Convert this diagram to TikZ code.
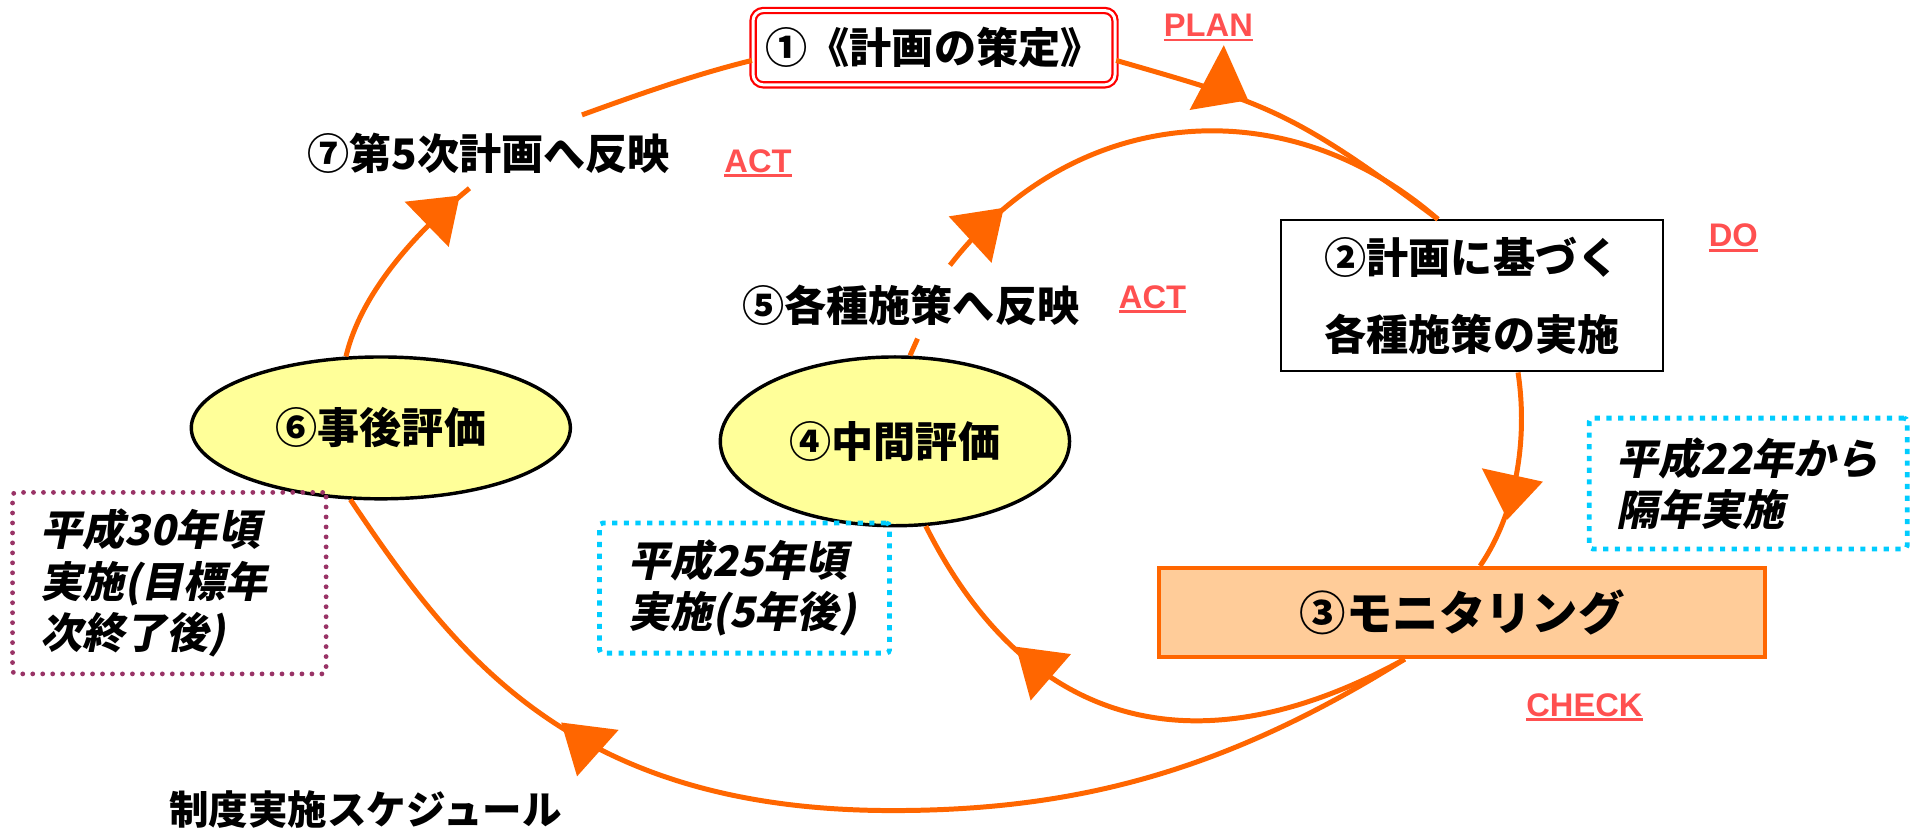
\documentclass[tikz,border=0pt]{standalone}
\usepackage{fontspec}
\setmainfont{Liberation Sans}
\newfontfamily\jp{Noto Sans CJK JP}
\newfontfamily\jpit{Noto Sans CJK JP}[FakeSlant=0.2]
\usetikzlibrary{shapes.geometric}
\definecolor{lineorange}{HTML}{FF6600}
\definecolor{monfill}{HTML}{FFCC99}
\definecolor{evalfill}{HTML}{FFFF99}
\definecolor{pdcared}{HTML}{FF5050}
\definecolor{dotcyan}{HTML}{00CCFF}
\definecolor{dotpurple}{HTML}{993366}
\newcommand{\redul}[1]{\setbox0\hbox{#1}\rlap{\rule[-2.8pt]{\wd0}{1.7pt}}\box0}
\begin{document}
\begin{tikzpicture}[x=0.025cm, y=-0.025cm,
	flow/.style={draw=lineorange, line width=2.9pt},
	head/.style={fill=lineorange},
	jplabel/.style={font=\jp\bfseries\fontsize{24.5}{30}\selectfont, inner sep=0pt},
	pdca/.style={text=pdcared, font=\bfseries\fontsize{19}{20}\selectfont, inner sep=0pt, anchor=base},
	note/.style={line width=2.8pt, align=left, inner sep=0pt, rounded corners=2pt, font=\jpit\bfseries\fontsize{24.5}{30}\selectfont},
	cyannote/.style={note, draw=dotcyan, dash pattern=on 3pt off 3.8pt},
	purplenote/.style={note, draw=dotpurple, line width=2.8pt, line cap=round, dash pattern=on 0pt off 5.8pt}]
		\useasboundingbox (0,0) rectangle (1568,681);
		
		% Steps
		\node[draw=red, double=white, double distance=1.7pt, line width=1.3pt, rounded corners=6pt, minimum width=7.4cm, minimum height=1.52cm, jplabel] (plan) at (764,39) {①《計画の策定》};
		\node[draw, line width=1.2pt, minimum width=7.81cm, minimum height=3.09cm, align=center, jplabel, font=\jp\bfseries\fontsize{24.5}{44.5}\selectfont] (do) at (1204,242) {②計画に基づく\\各種施策の実施};
		\node[draw=lineorange, fill=monfill, line width=2.4pt, minimum width=12.39cm, minimum height=1.82cm, jplabel, font=\jp\bfseries\fontsize{27}{30}\selectfont] (mon) at (1196,501) {③モニタリング};
		\node[ellipse, draw, fill=evalfill, line width=2pt, minimum width=7.14cm, minimum height=3.45cm, jplabel] (mid) at (732,361) {④中間評価};
		\node[ellipse, draw, fill=evalfill, line width=2pt, minimum width=7.75cm, minimum height=2.9cm, jplabel] (post) at (311.5,350) {⑥事後評価};
		\node[jplabel] (act5) at (745,249.5) {⑤各種施策へ反映};
		\node[jplabel] (act7) at (399.5,125.5) {⑦第5次計画へ反映};
		\node[jplabel, font=\jp\bfseries\fontsize{23}{30}\selectfont] (sched) at (299,662.5) {制度実施スケジュール};
		
		% Notes
		\node[cyannote, minimum width=6.5cm, minimum height=2.675cm, text width=5.4cm] (note22) at (1430,395.5) {平成22年から\\隔年実施};
		\node[cyannote, minimum width=5.93cm, minimum height=2.66cm, text width=4.76cm] (note25) at (609,481) {平成25年頃\\実施(5年後)};
		\node[purplenote, minimum width=6.41cm, minimum height=3.71cm, text width=5.27cm] (note30) at (138.5,477) {平成30年頃\\実施(目標年\\次終了後)};
		
		% PDCA labels
		\node[pdca] (lblplan) at (988.4,30) {\redul{PLAN}};
		\node[pdca] (lbldo) at (1417.7,201.8) {\redul{DO}};
		\node[pdca] (lblcheck) at (1296,586) {\redul{CHECK}};
		\node[pdca] (lblact5) at (942.7,252) {\redul{ACT}};
		\node[pdca] (lblact7) at (620,141) {\redul{ACT}};
		
		% Free ends
		\coordinate (end7) at (384,154);
		\coordinate (start7) at (476,94);
		\coordinate (end5) at (750.5,277);
		\coordinate (start5) at (777,217);
		\coordinate (low) at (730,663);
		
		% Outer cycle
		\draw[flow] (plan.-4) .. controls (1036,85) and (1055,89) .. (do.114);
		\draw[flow] (do.-59) .. controls (1250,360) and (1240,420) .. (mon.69);
		\draw[flow] (mon.-141) .. controls (1002,631) and (880,663) .. (low)
			.. controls (468,663) and (372,536) .. (post.-113);
		\draw[flow] (post.116) .. controls (295,240) and (340,190) .. (end7);
		\draw[flow] (start7) .. controls (520,78) and (568,61) .. (plan.184);
		
		% Inner cycle
		\draw[flow] (mon.-141) .. controls (982,631) and (842,599) .. (mid.-70);
		\draw[flow] (mid.80) -- (end5);
		\draw[flow] (start5) .. controls (879,85) and (1052,71) .. (do.114);
		
		% Arrow heads
		\foreach \a/\b/\c in {{1001,37}/{973,90}/{1021,82}, {1212,383}/{1262,394}/{1233,425},
			{831,529}/{876,535}/{843,573}, {459,591}/{506,597}/{472,635},
			{331,165}/{376,160}/{367,202}, {776,177}/{821,170}/{811,215}}
		\fill[head] (\a) -- (\b) -- (\c) -- cycle;
\end{tikzpicture}
\end{document}
